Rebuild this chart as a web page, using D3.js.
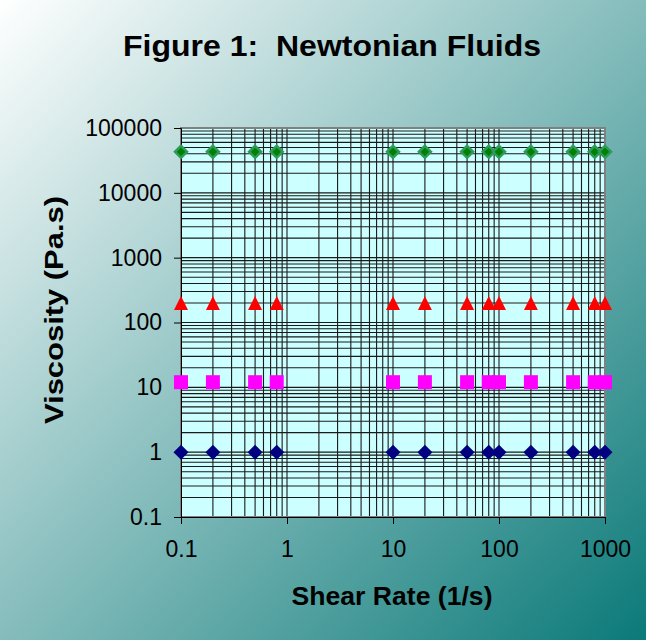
<!DOCTYPE html>
<html>
<head>
<meta charset="utf-8">
<script src="https://cdn.jsdelivr.net/npm/d3@7"></script>
<style>
  body { margin: 0; padding: 0; }
  text { font-family: Arial, "Liberation Sans", sans-serif; fill: #000; }
</style>
</head>
<body>
<div id="chart"></div>
<script>
// data
const shearRates = [0.1, 0.2, 0.5, 0.8, 10, 20, 50, 80, 100, 200, 500, 800, 1000];
const fluidNames = ["Fluid A", "Fluid B", "Fluid C", "Fluid D"];
const fluidViscosity = [43000, 200, 12, 1];
const xTicks = [0.1, 1, 10, 100, 1000];
const yTicks = [0.1, 1, 10, 100, 1000, 10000, 100000];

const W = 646, H = 640;
const plot = { left: 181, right: 605, top: 128, bottom: 517 };

const svg = d3.select("#chart")
  .append("svg")
  .attr("width", W)
  .attr("height", H);

// background gradient, white to teal
const grad = svg.append("defs").append("linearGradient")
  .attr("id", "bg")
  .attr("x1", 0).attr("y1", 0).attr("x2", 1).attr("y2", 1);
grad.append("stop").attr("offset", "0%").attr("stop-color", "#ffffff");
grad.append("stop").attr("offset", "100%").attr("stop-color", "#0b7a79");

svg.append("rect")
  .attr("width", W).attr("height", H)
  .attr("fill", "url(#bg)");

///////////////////////////
// scales
///////////////////////////
const x = d3.scaleLog().domain([0.1, 1000]).range([plot.left, plot.right]);
const y = d3.scaleLog().domain([0.1, 100000]).range([plot.bottom, plot.top]);

svg.append("rect")
  .attr("x", plot.left).attr("y", plot.top)
  .attr("width", plot.right - plot.left)
  .attr("height", plot.bottom - plot.top)
  .attr("fill", "#ccffff");

// grid lines, major and minor
const xGrid = x.ticks();
const yGrid = y.ticks();

svg.append("g")
  .selectAll("line")
  .data(xGrid)
  .join("line")
  .attr("x1", d => x(d)).attr("x2", d => x(d))
  .attr("y1", plot.top).attr("y2", plot.bottom)
  .attr("stroke", "#1a1a1a")
  .attr("stroke-width", 1.1);

svg.append("g")
  .selectAll("line")
  .data(yGrid)
  .join("line")
  .attr("y1", d => y(d)).attr("y2", d => y(d))
  .attr("x1", plot.left).attr("x2", plot.right)
  .attr("stroke", "#1a1a1a")
  .attr("stroke-width", 1.1);

// plot border
svg.append("rect")
  .attr("x", plot.left).attr("y", plot.top)
  .attr("width", plot.right - plot.left)
  .attr("height", plot.bottom - plot.top)
  .attr("fill", "none")
  .attr("stroke", "#808080")
  .attr("stroke-width", 2);

// axes
svg.append("g")
  .attr("transform", `translate(0, ${plot.bottom})`)
  .call(d3.axisBottom(x).tickValues(xTicks).tickFormat(d => d3.format("~g")(d)).tickSize(7).tickPadding(17))
  .call(g => g.select(".domain").attr("stroke", "#000"))
  .call(g => g.selectAll("text").attr("font-size", 23).attr("fill", "#000"));

svg.append("g")
  .attr("transform", `translate(${plot.left}, 0)`)
  .call(d3.axisLeft(y).tickValues(yTicks).tickFormat(d => d3.format("~g")(d)).tickSize(7).tickPadding(12))
  .call(g => g.select(".domain").attr("stroke", "#000"))
  .call(g => g.selectAll("text").attr("font-size", 23).attr("fill", "#000"));

///////////////////////////
// markers
///////////////////////////
const triangleBox = {
  draw(ctx, size) {
    const h = Math.sqrt(size);
    ctx.moveTo(0, -h / 2);
    ctx.lineTo(h / 2, h / 2);
    ctx.lineTo(-h / 2, h / 2);
    ctx.closePath();
  }
};
const diamondBox = {
  draw(ctx, size) {
    const h = Math.sqrt(size) / 2;
    ctx.moveTo(0, -h);
    ctx.lineTo(h, 0);
    ctx.lineTo(0, h);
    ctx.lineTo(-h, 0);
    ctx.closePath();
  }
};

const styles = [
  { type: diamondBox, size: 12 * 12, fill: "#008000", stroke: "#2e9a5a", sw: 2.5 },
  { type: triangleBox, size: 14 * 14, fill: "#ff0000", stroke: "none", sw: 0 },
  { type: d3.symbolSquare, size: 14 * 14, fill: "#ff00ff", stroke: "none", sw: 0 },
  { type: diamondBox, size: 15 * 15, fill: "#000080", stroke: "none", sw: 0 }
];

fluidNames.forEach((name, i) => {
  const s = styles[i];
  svg.append("g")
    .selectAll("path")
    .data(shearRates)
    .join("path")
    .attr("transform", d => `translate(${x(d)}, ${y(fluidViscosity[i])})`)
    .attr("d", d3.symbol().type(s.type).size(s.size))
    .attr("fill", s.fill)
    .attr("stroke", s.stroke)
    .attr("stroke-width", s.sw);
});

///////////////////////////
// titles
///////////////////////////
svg.append("text")
  .attr("x", 332).attr("y", 56)
  .attr("text-anchor", "middle")
  .attr("font-size", 29)
  .attr("font-weight", "bold")
  .attr("textLength", 418)
  .attr("lengthAdjust", "spacingAndGlyphs")
  .style("white-space", "pre")
  .text("Figure 1:  Newtonian Fluids");

svg.append("text")
  .attr("x", 392).attr("y", 605)
  .attr("text-anchor", "middle")
  .attr("font-size", 26)
  .attr("font-weight", "bold")
  .attr("textLength", 201)
  .attr("lengthAdjust", "spacingAndGlyphs")
  .text("Shear Rate (1/s)");

svg.append("text")
  .attr("transform", "translate(63, 310) rotate(-90)")
  .attr("text-anchor", "middle")
  .attr("font-size", 26)
  .attr("font-weight", "bold")
  .attr("textLength", 228)
  .attr("lengthAdjust", "spacingAndGlyphs")
  .text("Viscosity (Pa.s)");
</script>
</body>
</html>
